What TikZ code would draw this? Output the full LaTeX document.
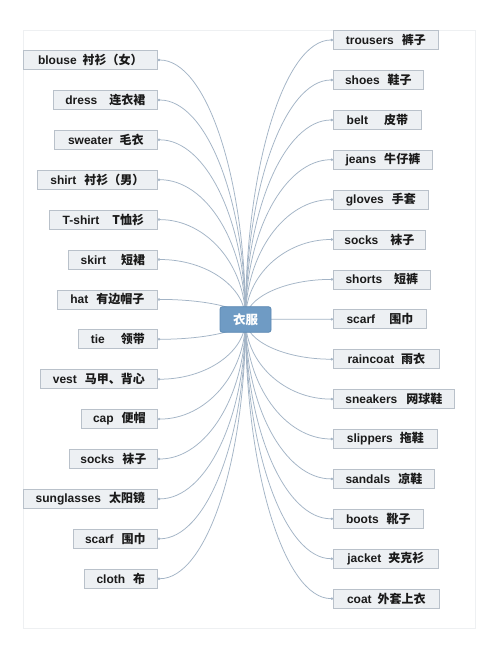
\documentclass[tikz,border=0pt]{standalone}
\usepackage{fontspec}
\setmainfont{Liberation Sans}
\newfontfamily\cjk{Noto Sans CJK SC}
\usetikzlibrary{arrows.meta,backgrounds,calc}
\definecolor{boxfill}{HTML}{EDF0F3}
\definecolor{boxline}{HTML}{B9C1CA}
\definecolor{connc}{HTML}{A3B4C6}
\definecolor{hubfill}{HTML}{6F9BC4}
\definecolor{hubline}{HTML}{5C89B3}
\definecolor{framec}{HTML}{EEF0F2}
\definecolor{txt}{HTML}{1A1A1A}
\tikzset{
  item/.style={draw=boxline, fill=boxfill, line width=0.8pt, minimum height=19pt,
    inner sep=0pt, anchor=west, text=txt,
    font=\bfseries\fontsize{12}{12}\selectfont},
  hub/.style={draw=hubline, fill=hubfill, line width=0.8pt, rounded corners=2.5pt,
    minimum width=51pt, minimum height=25.6pt, inner sep=0pt, text=white,
    font=\cjk\bfseries\fontsize{12.5}{12.5}\selectfont},
  conn/.style={draw=connc, line width=0.75pt, -{Circle[length=2.4pt]}},
}
\newcommand\lb[3]{#1\hspace{#2pt}{\cjk #3}}
\begin{document}
\begin{tikzpicture}[x=1pt,y=-1pt]
\useasboundingbox (0,0) rectangle (500,652);

\node[hub] (c) at (245.5,319.5) {衣服};

% left column
\node[item, minimum width=134pt] (l1)  at (23,60)    {\lb{blouse}{6}{衬衫（女）}};
\node[item, minimum width=104pt] (l2)  at (53,100)   {\lb{dress}{12}{连衣裙}};
\node[item, minimum width=103pt] (l3)  at (54,139.8) {\lb{sweater}{7}{毛衣}};
\node[item, minimum width=120pt] (l4)  at (37,179.7) {\lb{shirt}{8}{衬衫（男）}};
\node[item, minimum width=108pt] (l5)  at (49,219.6) {\lb{T-shirt}{13}{T恤衫}};
\node[item, minimum width=89pt]  (l6)  at (68,259.5) {\lb{skirt}{15}{短裙}};
\node[item, minimum width=100pt] (l7)  at (57,299.4) {\lb{hat}{8}{有边帽子}};
\node[item, minimum width=79pt]  (l8)  at (78,339.3) {\lb{tie}{16}{领带}};
\node[item, minimum width=117pt] (l9)  at (40,379.2) {\lb{vest}{8}{马甲、背心}};
\node[item, minimum width=76pt]  (l10) at (81,419.1) {\lb{cap}{8}{便帽}};
\node[item, minimum width=88pt]  (l11) at (69,459)   {\lb{socks}{8}{袜子}};
\node[item, minimum width=134pt] (l12) at (23,498.9) {\lb{sunglasses}{8}{太阳镜}};
\node[item, minimum width=84pt]  (l13) at (73,538.8) {\lb{scarf}{8}{围巾}};
\node[item, minimum width=73pt]  (l14) at (84,578.7) {\lb{cloth}{8}{布}};

% right column
\node[item, minimum width=105pt] (r1)  at (333,40)    {\lb{trousers}{8}{裤子}};
\node[item, minimum width=90pt]  (r2)  at (333,80)    {\lb{shoes}{8}{鞋子}};
\node[item, minimum width=88pt]  (r3)  at (333,120)   {\lb{belt}{16}{皮带}};
\node[item, minimum width=99pt]  (r4)  at (333,159.7) {\lb{jeans}{8}{牛仔裤}};
\node[item, minimum width=95pt]  (r5)  at (333,199.6) {\lb{gloves}{8}{手套}};
\node[item, minimum width=92pt]  (r6)  at (333,239.5) {\lb{socks}{12}{袜子}};
\node[item, minimum width=97pt]  (r7)  at (333,279.4) {\lb{shorts}{12}{短裤}};
\node[item, minimum width=93pt]  (r8)  at (333,319.3) {\lb{scarf}{14}{围巾}};
\node[item, minimum width=106pt] (r9)  at (333,359.2) {\lb{raincoat}{7}{雨衣}};
\node[item, minimum width=121pt] (r10) at (333,399.1) {\lb{sneakers}{9}{网球鞋}};
\node[item, minimum width=104pt] (r11) at (333,439)   {\lb{slippers}{7}{拖鞋}};
\node[item, minimum width=101pt] (r12) at (333,478.9) {\lb{sandals}{8}{凉鞋}};
\node[item, minimum width=90pt]  (r13) at (333,518.8) {\lb{boots}{8}{靴子}};
\node[item, minimum width=105pt] (r14) at (333,558.7) {\lb{jacket}{7}{夹克衫}};
\node[item, minimum width=106pt] (r15) at (333,598.6) {\lb{coat}{6}{外套上衣}};

\begin{pgfonlayer}{background}
\fill[white] (0,0) rectangle (500,652);
\draw[framec, line width=0.8pt] (23,30) rectangle (475,628);
\foreach \n in {l1,l2,l3,l4,l5,l6,l7,l8,l9,l10,l11,l12,l13,l14}
  \draw[conn] (c.center) .. controls ($(c.center)!0.55!(c.center |- \n.east)$)
     and ($(\n.east)!0.55!(c.center |- \n.east)$) .. (\n.east);
\foreach \n in {r1,r2,r3,r4,r5,r6,r7,r8,r9,r10,r11,r12,r13,r14,r15}
  \draw[conn] (c.center) .. controls ($(c.center)!0.55!(c.center |- \n.west)$)
     and ($(\n.west)!0.55!(c.center |- \n.west)$) .. (\n.west);
\end{pgfonlayer}
\end{tikzpicture}
\end{document}
